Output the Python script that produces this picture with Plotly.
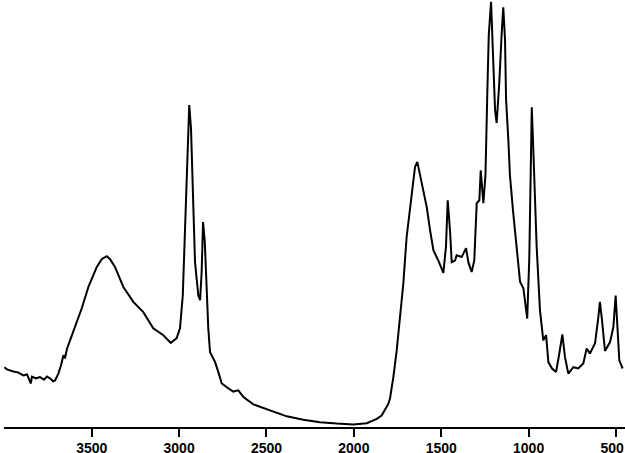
import plotly.graph_objects as go

# IR spectrum: wavenumber (cm-1) and relative absorbance (%)
wavenumber = [4000, 3985, 3949, 3922, 3891, 3870, 3849, 3842, 3819, 3796, 3773, 3756, 3739, 3721,
              3710, 3691, 3676, 3662, 3653, 3641, 3624, 3586, 3557, 3519, 3471, 3443, 3414, 3395,
              3367, 3319, 3262, 3205, 3148, 3090, 3048, 3014, 2995, 2979, 2966, 2956, 2947, 2942,
              2932, 2922, 2909, 2890, 2880, 2871, 2863, 2853, 2842, 2833, 2823, 2794, 2776, 2756,
              2727, 2690, 2661, 2632, 2575, 2480, 2384, 2289, 2194, 2098, 2003, 1926, 1869, 1841,
              1822, 1803, 1793, 1774, 1755, 1736, 1717, 1698, 1669, 1650, 1637, 1612, 1583, 1564,
              1545, 1517, 1488, 1473, 1463, 1450, 1440, 1421, 1412, 1383, 1358, 1345, 1326, 1311,
              1297, 1282, 1274, 1259, 1247, 1236, 1228, 1215, 1202, 1192, 1183, 1168, 1154, 1145,
              1135, 1129, 1116, 1107, 1088, 1068, 1049, 1030, 1008, 996, 988, 982, 973, 963, 954,
              935, 916, 900, 887, 866, 843, 826, 807, 792, 773, 744, 716, 687, 668, 649, 620, 603,
              592, 580, 563, 534, 515, 502, 494, 481, 462]
absorbance = [14.0, 13.5, 13.0, 12.8, 12.1, 12.3, 10.2, 11.8, 11.4, 11.7, 11.1, 11.8, 11.4, 10.7,
              10.9, 12.5, 14.4, 16.8, 16.1, 18.4, 20.3, 24.3, 27.8, 32.8, 37.5, 39.3, 40.0, 39.3,
              37.5, 32.8, 29.3, 26.9, 23.1, 21.5, 19.7, 20.8, 23.1, 30.8, 46.5, 62.1, 73.0, 75.4,
              70.0, 54.3, 38.6, 30.8, 29.7, 36.3, 48.0, 43.3, 29.3, 23.1, 17.5, 15.2, 12.9, 10.2,
              9.3, 8.3, 8.6, 7.0, 5.3, 3.9, 2.5, 1.7, 1.1, 0.8, 0.6, 0.9, 1.9, 2.7,
              3.9, 5.4, 6.7, 11.7, 17.9, 25.7, 33.6, 44.5, 54.7, 60.9, 62.1, 57.0, 51.5, 46.1,
              41.4, 39.0, 36.1, 42.2, 53.1, 46.1, 38.6, 39.0, 40.2, 39.8, 41.9, 38.6, 36.3, 39.0,
              52.4, 53.1, 60.1, 52.4, 59.0, 78.9, 91.8, 99.6, 84.3, 74.2, 71.2, 80.5, 92.3, 98.3,
              90.6, 76.6, 67.2, 59.0, 50.1, 42.2, 34.0, 32.5, 25.4, 39.8, 57.8, 74.9, 64.8, 53.1, 42.2,
              27.3, 20.3, 21.5, 15.2, 13.7, 12.9, 16.8, 21.7, 16.4, 12.5, 14.0, 13.7, 14.9, 18.4, 17.2, 19.6, 25.0,
              29.3, 25.0, 17.8, 19.9, 23.4, 30.8, 25.0, 15.6, 13.7]
tick_values = [3500, 3000, 2500, 2000, 1500, 1000, 500]
tick_labels = ["3500", "3000", "2500", "2000", "1500", "1000", "500\u00a0\u00a0"]

fig = go.Figure()
fig.add_trace(go.Scatter(x=wavenumber, y=absorbance, mode="lines",
                         line=dict(color="black", width=2), hoverinfo="skip"))

fig.update_layout(
    width=625, height=453,
    margin=dict(l=4, r=0, t=0, b=26, autoexpand=False),
    paper_bgcolor="white", plot_bgcolor="white",
    showlegend=False,
    xaxis=dict(range=[4002, 448.5], tickvals=tick_values, ticktext=tick_labels,
               ticks="outside", ticklen=8, tickwidth=2, tickcolor="black",
               showline=True, linecolor="black", linewidth=1.5,
               showgrid=False, zeroline=False, ticklabeloverflow="allow",
               ticklabelstandoff=-1,
               tickfont=dict(family="Liberation Sans", size=14, color="black", weight="bold")),
    yaxis=dict(range=[0, 100], visible=False, showgrid=False, zeroline=False),
)

fig.write_html("out.html", config={"displayModeBar": False},
               post_script="document.body.style.margin='0';document.body.style.overflow='hidden';")
